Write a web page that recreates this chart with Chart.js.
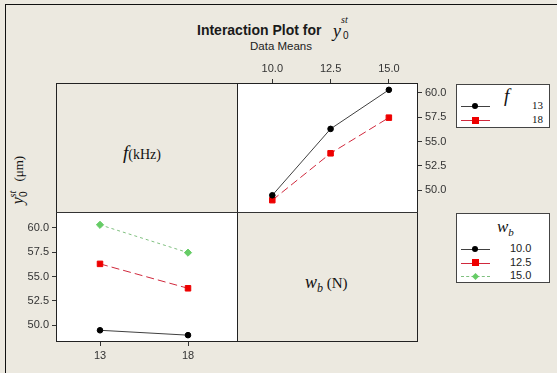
<!DOCTYPE html>
<html>
<head>
<meta charset="utf-8">
<script src="https://cdn.jsdelivr.net/npm/chart.js@4.4.1/dist/chart.umd.min.js"></script>
<style>
  body { margin: 0; width: 557px; height: 373px; overflow: hidden; position: relative;
         background: #ECE9E0; font-family: "Liberation Sans", sans-serif; color: #111; }
  .abs { position: absolute; }
  .serif { font-family: "Liberation Serif", serif; }
  .it { font-style: italic; }
  canvas { position: absolute; }
</style>
</head>
<body>
<!-- screenshot frame -->
<div class="abs" style="left:5px;top:4px;width:560px;height:1px;background:#111"></div>
<div class="abs" style="left:5px;top:4px;width:1px;height:380px;background:#111"></div>

<!-- title -->
<div class="abs" style="left:197px;top:22px;font-size:14px;font-weight:bold;white-space:nowrap;color:#1a1a1a">Interaction Plot for</div>
<div class="abs serif it" style="left:333px;top:21px;font-size:18px">y</div>
<div class="abs" style="left:343px;top:30px;font-size:10px">0</div>
<div class="abs serif it" style="left:341px;top:14px;font-size:10px">st</div>
<div class="abs" style="left:250px;top:40px;font-size:11.5px;color:#222">Data Means</div>

<!-- y axis title -->
<div class="abs serif" style="left:18px;top:180px;width:0;height:0">
  <div style="position:absolute;transform:translate(-50%,-50%) rotate(-90deg);white-space:nowrap;font-size:13px">
    <span class="it" style="font-size:16px">y</span><span style="position:relative;top:4px;font-size:10px;font-family:'Liberation Sans'">0</span><span class="it" style="position:relative;top:-7px;left:-6px;font-size:10px">st</span> (μm)
  </div>
</div>

<!-- panel backgrounds -->
<div class="abs" style="left:237px;top:83px;width:181px;height:129px;background:#fff"></div>
<div class="abs" style="left:56px;top:212px;width:181px;height:130px;background:#fff"></div>

<!-- panel labels -->
<div class="abs serif" style="left:123px;top:142px;white-space:nowrap">
  <span class="it" style="font-size:19px">f</span><span style="font-size:14px">(kHz)</span>
</div>
<div class="abs serif" style="left:305px;top:272px;white-space:nowrap">
  <span class="it" style="font-size:18px">w</span><span class="it" style="font-size:12px;position:relative;top:4px">b</span><span style="font-size:15px"> (N)</span>
</div>

<canvas id="topRight" width="221" height="154" style="left:237px;top:58px"></canvas>
<canvas id="bottomLeft" width="221" height="155" style="left:16px;top:212px"></canvas>

<!-- panel frames -->
<div class="abs" style="left:56px;top:83px;width:362px;height:259px;border:1px solid #222;box-sizing:border-box"></div>
<div class="abs" style="left:237px;top:83px;width:1px;height:259px;background:#222"></div>
<div class="abs" style="left:56px;top:212px;width:362px;height:1px;background:#333"></div>

<!-- legends -->
<div id="legF" class="abs" style="left:456px;top:84px;width:94px;height:44px;background:#fff;border:1px solid #444;box-sizing:border-box"></div>
<div id="legW" class="abs" style="left:456px;top:213px;width:94px;height:70px;background:#fff;border:1px solid #444;box-sizing:border-box"></div>

<script>
// factor levels
var fLevels = [13, 18];
var wbLevels = [10.0, 12.5, 15.0];
// mean y0st at each wb level, one array per f level
var meanF13 = [49.5, 56.3, 60.3];
var meanF18 = [49.0, 53.8, 57.45];
var yTicks = [50.0, 52.5, 55.0, 57.5, 60.0];

// series styles (f: black, red / wb: black, red, green)
var styles = [
  { line: "#404040", point: "#000000", shape: "circle", r: 2.8, dash: [] },
  { line: "#d0283c", point: "#ee0000", shape: "rect", r: 3.9, dash: [8, 4] },
  { line: "#80c080", point: "#66cc66", shape: "rectRot", r: 3.6, dash: [3, 3] }
];

var tickFont = { family: "Liberation Sans", size: 11 };

function fixAxis(size, horizontal) {
  return function (s) {
    if (horizontal) s.height = size; else s.width = size;
    s.paddingTop = 0; s.paddingBottom = 0; s.paddingLeft = 0; s.paddingRight = 0;
  };
}

function axis(pos, min, max, tickVals, fmt) {
  var horizontal = pos == "top" || pos == "bottom";
  return {
    type: "linear",
    position: pos,
    min: min,
    max: max,
    afterBuildTicks: function (s) { s.ticks = tickVals.map(function (v) { return { value: v }; }); },
    afterFit: fixAxis(horizontal ? 25 : 40, horizontal),
    ticks: { color: "#333", font: tickFont, padding: 3, maxRotation: 0, callback: fmt },
    grid: { drawOnChartArea: false, tickLength: 4, color: "#333", tickColor: "#333" },
    border: { display: false }
  };
}

function makeSet(xs, ys, st) {
  return {
    data: xs.map(function (x, i) { return { x: x, y: ys[i] }; }),
    borderColor: st.line,
    borderWidth: 1,
    borderDash: st.dash,
    backgroundColor: st.point,
    pointBackgroundColor: st.point,
    pointBorderColor: st.point,
    pointStyle: st.shape,
    pointRadius: st.r,
    tension: 0,
    fill: false
  };
}

var one = function (v) { return v.toFixed(1); };
var plain = function (v) { return String(v); };

var base = {
  responsive: false,
  animation: false,
  layout: { padding: 0 },
  plugins: { legend: { display: false }, tooltip: { enabled: false } }
};

// top right: y vs wb, one line per f level
new Chart(document.getElementById("topRight"), {
  type: "line",
  data: { datasets: [makeSet(wbLevels, meanF13, styles[0]), makeSet(wbLevels, meanF18, styles[1])] },
  options: Object.assign({}, base, {
    scales: {
      x: axis("top", 8.7, 16.25, wbLevels, one),
      y: axis("right", 48.3, 61.0, yTicks, one)
    }
  })
});

// bottom left: y vs f, one line per wb level
var wbSets = wbLevels.map(function (w, i) {
  return makeSet(fLevels, [meanF13[i], meanF18[i]], styles[i]);
});
new Chart(document.getElementById("bottomLeft"), {
  type: "line",
  data: { datasets: wbSets },
  options: Object.assign({}, base, {
    scales: {
      x: axis("bottom", 10.5, 20.5, fLevels, plain),
      y: axis("left", 48.3, 61.1, yTicks, one)
    }
  })
});

// legends
function legendRow(box, y, st, label, labelCss) {
  var el = document.getElementById(box);
  var line = document.createElement("div");
  line.className = "abs";
  line.style.cssText = "left:4px;top:" + y + "px;width:29px;height:0;border-top:1px " +
    (st.shape == "rectRot" ? "dashed" : "solid") + " " + st.line;
  el.appendChild(line);
  var m = document.createElement("div");
  m.className = "abs";
  var sz = st.shape == "circle" ? 6 : st.shape == "rect" ? 7 : 5;
  m.style.cssText = "width:" + sz + "px;height:" + sz + "px;background:" + st.point +
    ";left:" + (18 - sz / 2) + "px;top:" + (y - sz / 2) + "px;" +
    (st.shape == "circle" ? "border-radius:50%;" : "") +
    (st.shape == "rectRot" ? "transform:rotate(45deg);" : "");
  el.appendChild(m);
  var t = document.createElement("div");
  t.className = "abs";
  t.textContent = label;
  t.style.cssText = labelCss + "top:" + (y - 7) + "px;";
  el.appendChild(t);
}

var legF = document.getElementById("legF");
legF.innerHTML = '<div class="abs serif it" style="left:47px;top:0px;font-size:19px">f</div>';
fLevels.forEach(function (f, i) {
  legendRow("legF", 21 + i * 14, styles[i], String(f),
    "left:75px;font-family:'Liberation Serif',serif;font-size:11px;");
});

var legW = document.getElementById("legW");
legW.innerHTML = '<div class="abs serif it" style="left:40px;top:3px;font-size:17px">w<span style="font-size:11px;position:relative;top:4px">b</span></div>';
wbLevels.forEach(function (w, i) {
  legendRow("legW", 35 + i * 13.5, styles[i], w.toFixed(1),
    "left:53px;font-size:11px;color:#222;");
});
</script>
</body>
</html>
